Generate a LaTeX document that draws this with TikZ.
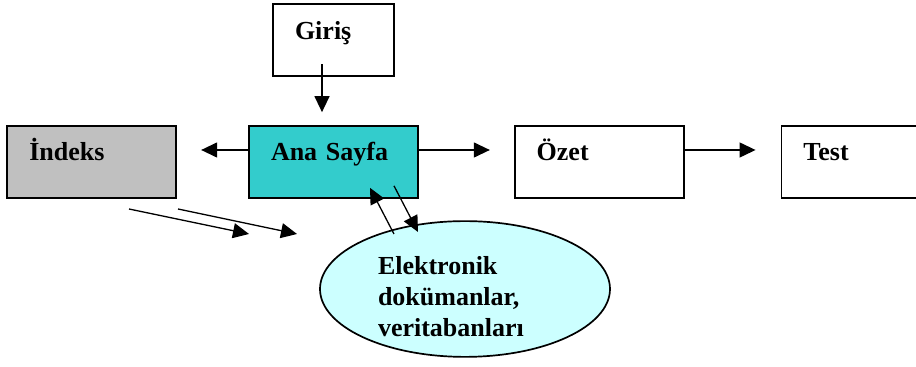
\documentclass[tikz,border=0pt]{standalone}
\usepackage{fontspec}
\setmainfont{Liberation Serif}
\usetikzlibrary{arrows.meta,calc,positioning,shapes.geometric}

\definecolor{anacyan}{HTML}{33CCCC}
\definecolor{indeksgray}{HTML}{C0C0C0}
\definecolor{dbcyan}{HTML}{CCFFFF}

\begin{document}
\begin{tikzpicture}[
  font=\fontsize{13}{15.5}\selectfont\bfseries,
  box/.style={draw, line width=0.85pt, text width=62.5pt, align=left, inner xsep=11pt, inner ysep=0pt, text height=17.5pt, text depth=18.5pt},
  db/.style={draw, ellipse, line width=0.85pt, fill=dbcyan, minimum width=145pt, minimum height=66pt, inner sep=0pt, text width=87pt, align=left, text height=17pt, text depth=31pt},
  arr/.style={-{Triangle[length=8pt, width=7.5pt]}, line width=0.65pt}
]
\useasboundingbox (0,0) rectangle (458pt,-183.5pt);
\clip (0,0) rectangle (458pt,-183.5pt);
\node[box, fill=anacyan] (ana) at (166.75pt,-81pt) {Ana Sayfa};
\node[box, fill=indeksgray, left=35.5pt of ana] (indeks) {İndeks};
\node[box, right=47.5pt of ana] (ozet) {Özet};
\node[box, right=48pt of ozet] (test) {Test};
\node[box, text width=38.5pt, above=24pt of ana] (giris) {Giriş};
\node[db] (db) at ($(ana.center)+(65.75pt,-63.5pt)$) {Elektronik\\dokümanlar,\\veritabanları};
% free arrows under the index box
\coordinate (s1) at (64.5pt,-104.5pt);
\coordinate (e1) at (124.5pt,-117pt);
\coordinate (s2) at (89pt,-104.5pt);
\coordinate (e2) at (148.5pt,-117pt);
\draw[arr] ($(giris.south)+(-5.75pt,6.5pt)$) -- ($(ana.north)+(-5.75pt,6.5pt)$);
\draw[arr] ($(ana.west)+(0,6pt)$) -- ($(indeks.east)+(12pt,6pt)$);
\draw[arr] ($(ana.east)+(0,6pt)$) -- ($(ozet.west)+(-12pt,6pt)$);
\draw[arr] ($(ozet.east)+(0,6pt)$) -- ($(test.west)+(-12.5pt,6pt)$);
\draw[arr] ($(db.center)+(-35.5pt,27.5pt)$) -- ($(ana.south)+(18.25pt,5.5pt)$);
\draw[arr] ($(ana.south)+(30.25pt,6.5pt)$) -- ($(db.center)+(-23.5pt,28.5pt)$);
\draw[arr] (s1) -- (e1);
\draw[arr] (s2) -- (e2);
\end{tikzpicture}
\end{document}
